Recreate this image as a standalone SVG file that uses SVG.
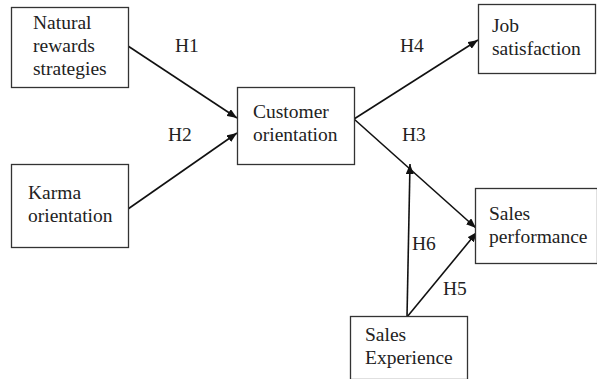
<svg xmlns="http://www.w3.org/2000/svg" width="597" height="379" viewBox="0 0 597 379">
<style>
.box{fill:#fff;stroke:#333;stroke-width:1.3}
.t{font-family:"Liberation Serif","Times New Roman",serif;font-size:19.5px;fill:#222}
.e{stroke:#111;stroke-width:1.6;fill:none;marker-end:url(#ah)}
</style>
<defs>
<marker id="ah" viewBox="0 0 10 8" refX="10" refY="4" markerWidth="10" markerHeight="8" markerUnits="userSpaceOnUse" orient="auto">
<path d="M0,0 L10,4 L0,8 z" fill="#111"/>
</marker>
</defs>
<rect width="597" height="379" fill="#fff"/>
<g id="connectors">
<line class="e" x1="128" y1="46" x2="237" y2="118"/>
<line class="e" x1="128" y1="209" x2="237" y2="133"/>
<line class="e" x1="354" y1="119" x2="478" y2="40"/>
<line class="e" x1="354" y1="119" x2="476" y2="228"/>
<line class="e" x1="407" y1="317" x2="410" y2="164"/>
<line class="e" x1="407" y1="317" x2="477" y2="232"/>
<text class="t" x="175" y="52">H1</text>
<text class="t" x="168" y="141">H2</text>
<text class="t" x="400" y="52">H4</text>
<text class="t" x="402" y="141">H3</text>
<text class="t" x="412" y="250">H6</text>
<text class="t" x="443" y="295">H5</text>
</g>
<g id="natural">
<rect class="box" x="11.5" y="7.5" width="117" height="80"/>
<text class="t" x="33" y="29">Natural</text>
<text class="t" x="33" y="52">rewards</text>
<text class="t" x="33" y="75">strategies</text>
</g>
<g id="karma">
<rect class="box" x="11.5" y="164.5" width="117" height="83"/>
<text class="t" x="28" y="199">Karma</text>
<text class="t" x="28" y="222">orientation</text>
</g>
<g id="customer">
<rect class="box" x="237.5" y="87.5" width="117" height="77"/>
<text class="t" x="253" y="118">Customer</text>
<text class="t" x="253" y="141">orientation</text>
</g>
<g id="job">
<rect class="box" x="478.5" y="4.5" width="117" height="69"/>
<text class="t" x="492" y="32">Job</text>
<text class="t" x="492" y="55">satisfaction</text>
</g>
<g id="salesperf">
<rect class="box" x="475.5" y="188.5" width="122" height="75"/>
<text class="t" x="489" y="220">Sales</text>
<text class="t" x="489" y="243">performance</text>
</g>
<g id="salesexp">
<rect class="box" x="350.5" y="316.5" width="117" height="63"/>
<text class="t" x="365" y="341">Sales</text>
<text class="t" x="365" y="364">Experience</text>
</g>
</svg>
